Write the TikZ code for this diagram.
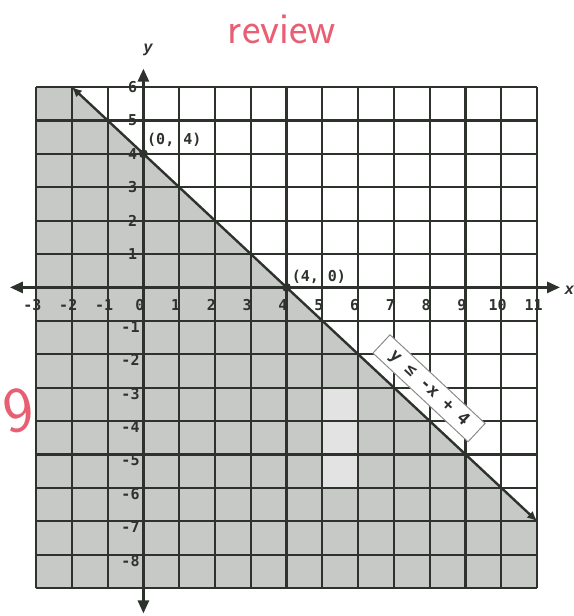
\documentclass[tikz,border=0pt]{standalone}
\usepackage{fontspec}
\setmainfont{Liberation Sans}
\newfontfamily\monof{DejaVu Sans Mono}
\usetikzlibrary{arrows.meta}
\definecolor{gridc}{RGB}{45,50,45}
\definecolor{shadec}{RGB}{198,201,198}
\definecolor{shadelt}{RGB}{226,227,226}
\definecolor{pen}{RGB}{232,95,115}
\begin{document}
\begin{tikzpicture}[x=35.79pt,y=33.4pt,
  gridline/.style={draw=gridc,line width=2.2pt},
  axis/.style={draw=gridc,line width=2.8pt,{Triangle[length=13pt,width=11pt]}-{Triangle[length=13pt,width=11pt]}},
  graphline/.style={draw=gridc,line width=2.4pt,{Latex[length=10pt,width=9pt]}-{Latex[length=10pt,width=9pt]}},
  tick/.style={font=\monof\bfseries\fontsize{15}{15}\selectfont,text=gridc,inner sep=0pt},
  ptlabel/.style={font=\monof\bfseries\fontsize{15}{15}\selectfont,text=gridc,inner sep=0pt},
  dot/.style={circle,fill=gridc,inner sep=0pt,minimum size=9pt},
  eqbox/.style={draw=black!45,fill=white,line width=1pt,rotate=-43,minimum width=130pt,minimum height=25pt,inner sep=0pt,font=\monof\bfseries\fontsize{17}{17}\selectfont,text=gridc},
  hand/.style={text=pen,inner sep=0pt}]
\useasboundingbox (-4.007,-9.838) rectangle (12.003,8.605);
% shading
\fill[shadec] (-3,6) -- (-2,6) -- (11,-7) -- (11,-9) -- (-3,-9) -- cycle;
\fill[shadelt] (5,-6) rectangle (6,-3);
% grid
\foreach \i in {-3,...,11} { \draw[gridline] (\i,-9) -- (\i,6); }
\foreach \j in {-9,...,6} { \draw[gridline] (-3,\j) -- (11,\j); }
% axes
\coordinate (xl) at (-3.73,0);
\coordinate (xr) at (11.64,0);
\coordinate (yt) at (0,6.55);
\coordinate (yb) at (0,-9.76);
\draw[axis] (xl) -- (xr);
\draw[axis] (yb) -- (yt);
\node[font=\bfseries\itshape\fontsize{16}{16}\selectfont,text=gridc,inner sep=0pt] (ylab) at (0.13,7.1) {y};
\node[font=\bfseries\itshape\fontsize{16}{16}\selectfont,text=gridc,inner sep=0pt] (xlab) at (11.9,-0.1) {x};
% tick labels
\foreach \i in {-3,...,11} {
  \node[tick] (xt\i) at (\i-0.1,-0.52) {\i};
}
\foreach \j in {1,...,6} {
  \node[tick] (yt\j) at (-0.3,\j) {\j};
}
\foreach \j in {-1,...,-8} {
  \node[tick] (yn\j) at (-0.36,\j-0.18) {\j};
}
% boundary line
\coordinate (la) at (-2,6);
\coordinate (lb) at (11,-7);
\draw[graphline] (la) -- (lb);
\node[dot] (p1) at (0,4) {};
\node[dot] (p2) at (4,0) {};
\node[ptlabel,anchor=west] (p1lab) at (0.1,4.42) {(0, 4)};
\node[ptlabel,anchor=west] (p2lab) at (4.14,0.33) {(4, 0)};
\node[eqbox] (eq) at (7.98,-3.02) {y ≤ -x + 4};
% handwriting
\node[hand,font=\sffamily\fontsize{64}{64}\selectfont,rotate=8] (nine) at (-3.5,-3.7) {9};
\node[hand,font=\sffamily\fontsize{44}{44}\selectfont] (rev) at (3.87,7.72) {review};
\end{tikzpicture}
\end{document}
